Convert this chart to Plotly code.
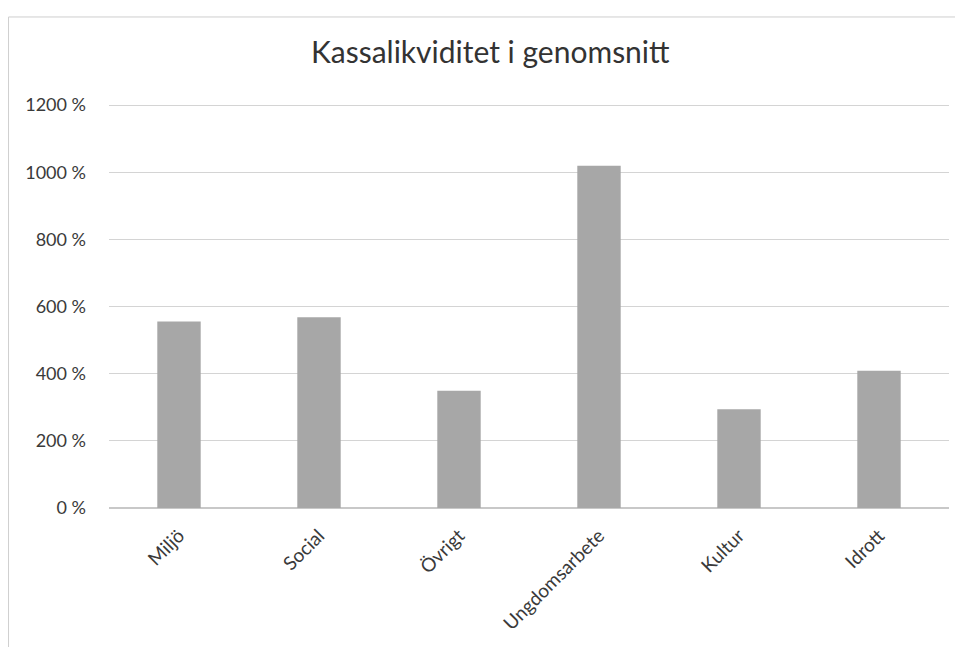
import plotly.graph_objects as go

categories = ["Miljö", "Social", "Övrigt", "Ungdomsarbete", "Kultur", "Idrott"]
liquidity = [555, 568, 349, 1019, 294, 409]
y_ticks = [0, 200, 400, 600, 800, 1000, 1200]

font_family = "Lato, 'Open Sans', sans-serif"

fig = go.Figure()

fig.add_trace(go.Bar(x=categories, y=liquidity,
                     marker=dict(color='#a7a7a7', line=dict(width=0)),
                     name='Kassalikviditet'))

# page body has an 8px margin, so the figure is made 8px smaller and shifted
fig.update_layout(
    autosize=False,
    width=955,
    height=639,
    margin=dict(l=101, r=14, t=94, b=139),
    paper_bgcolor='white',
    plot_bgcolor='white',
    bargap=0.69,
    showlegend=False,
    font=dict(family=font_family, size=18, color='#3a3a3a'),
    title=dict(text='Kassalikviditet i genomsnitt',
               x=0.505, xanchor='center',
               y=0.931, yanchor='middle', yref='container',
               font=dict(family=font_family, size=30, color='#333333')),
)

fig.update_yaxes(
    range=[0, 1209],
    tickvals=y_ticks,
    ticktext=[f"{v} %" for v in y_ticks],
    showgrid=True,
    gridcolor='#d4d4d4',
    gridwidth=1,
    zeroline=True,
    zerolinecolor='#c8c8c8',
    showline=False,
    ticks='',
    ticklabelstandoff=22,
    automargin=False,
)

fig.update_xaxes(
    tickangle=-45,
    tickfont=dict(size=19),
    showgrid=False,
    showline=False,
    ticks='',
    ticklabelstandoff=12,
    automargin=False,
)

# faint frame of the scanned chart (top and left edges)
fig.add_shape(type='line', xref='paper', yref='paper',
              x0=-0.1196, x1=1.02, y0=1.2094, y1=1.2094,
              line=dict(color='#cfcfcf', width=1))
fig.add_shape(type='line', xref='paper', yref='paper',
              x0=-0.1196, x1=-0.1196, y0=1.2094, y1=-0.36,
              line=dict(color='#cfcfcf', width=1))

fig.write_html("out.html")
